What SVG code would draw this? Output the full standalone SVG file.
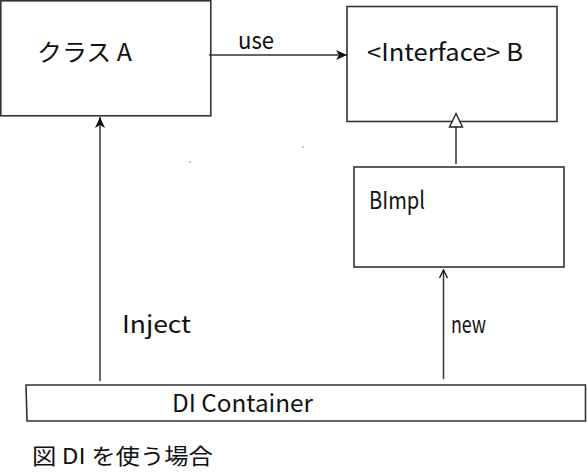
<svg xmlns="http://www.w3.org/2000/svg" width="587" height="473" viewBox="0 0 587 473">
<style>
.box{fill:#fff;stroke:#333;stroke-width:1.6}
.ln{fill:none;stroke:#333;stroke-width:1.5}
.t{font-family:"Noto Sans CJK JP","DejaVu Sans",sans-serif;font-size:24px;fill:#111}
.c{font-size:22px}
</style>
<defs>
<marker id="fill" markerWidth="12" markerHeight="12" viewBox="0 0 12 12" refX="11" refY="6" orient="auto" markerUnits="userSpaceOnUse">
<path d="M0,1 L11,6 L0,11 L3,6 Z" fill="#111"/>
</marker>
<marker id="open" markerWidth="10" markerHeight="10" viewBox="0 0 10 10" refX="9" refY="5" orient="auto" markerUnits="userSpaceOnUse">
<path d="M1,1 L9,5 L1,9" fill="none" stroke="#111" stroke-width="1.3"/>
</marker>
</defs>
<rect width="587" height="473" fill="#fff"/>
<g id="classA">
<rect class="box" x="0.8" y="0.8" width="210" height="115"/>
<text class="t" x="37" y="61" textLength="95" lengthAdjust="spacingAndGlyphs">クラス A</text>
</g>
<g id="interfaceB">
<rect class="box" x="347" y="6.5" width="210" height="115"/>
<text class="t" x="367" y="61" textLength="156" lengthAdjust="spacingAndGlyphs">&lt;Interface&gt; B</text>
</g>
<g id="bimpl">
<rect class="box" x="354" y="167" width="210" height="100"/>
<text class="t" x="369" y="209" textLength="56" lengthAdjust="spacingAndGlyphs">BImpl</text>
</g>
<g id="container">
<polygon class="box" points="26,385 585.5,385 585.5,421 27,421"/>
<text class="t" x="172" y="412" textLength="141" lengthAdjust="spacingAndGlyphs">DI Container</text>
</g>
<g id="connectors">
<line class="ln" x1="209" y1="55" x2="347" y2="55" marker-end="url(#fill)"/>
<line class="ln" x1="100" y1="381" x2="100" y2="117" marker-end="url(#fill)"/>
<line class="ln" x1="456" y1="164" x2="456" y2="127"/>
<polygon points="456,113.5 462.5,127 449.5,127" fill="#fff" stroke="#222" stroke-width="1.4"/>
<line class="ln" x1="443.5" y1="379" x2="443.5" y2="270" marker-end="url(#open)"/>
<text class="t" x="238" y="49" textLength="36" lengthAdjust="spacingAndGlyphs">use</text>
<text class="t" x="122" y="333" textLength="69" lengthAdjust="spacingAndGlyphs">Inject</text>
<text class="t" x="451" y="333" textLength="35" lengthAdjust="spacingAndGlyphs">new</text>
</g>
<g id="caption">
<text class="t c" x="32" y="464" textLength="181" lengthAdjust="spacingAndGlyphs">図 DI を使う場合</text>
</g>
<circle cx="190" cy="162" r="0.7" fill="#555"/>
<circle cx="303" cy="147" r="0.7" fill="#555"/>
</svg>
